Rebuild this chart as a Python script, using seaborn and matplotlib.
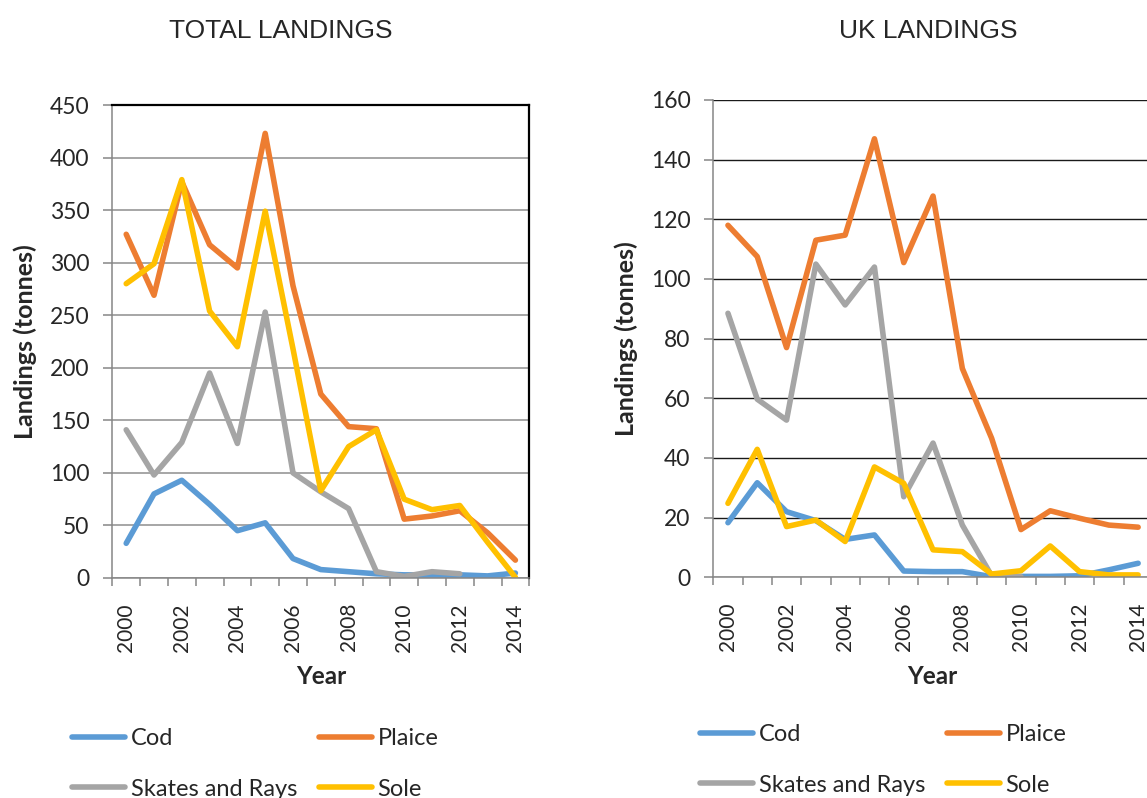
import numpy as np
import pandas as pd
import matplotlib
matplotlib.use("Agg")
import matplotlib.pyplot as plt
from matplotlib.lines import Line2D
from matplotlib.ticker import MultipleLocator
import seaborn as sns

# ---- data -------------------------------------------------------------
years = list(range(2000, 2015))
species = ["Cod", "Plaice", "Skates and Rays", "Sole"]
colors = ["#5B9BD5", "#ED7D31", "#A5A5A5", "#FFC000"]

total_cod = [33, 80, 93, 70, 45, 52.5, 18.5, 8, 6, 4, 3, 3, 3, 2, 4.7]
total_plaice = [327, 269, 377, 317, 295, 423, 278, 175, 144, 142, 56, 59, 64, 43, 17]
total_skates = [141, 98, 129, 195, 128, 253, 100, 82, 66, 6, 1.5, 6, 4, np.nan, np.nan]
total_sole = [280, 299, 379, 254, 220, 349, 218, 83, 125, 141, 75, 65, 69, 34, 0.6]

uk_cod = [18.3, 31.7, 22, 19, 12.7, 14.2, 2.1, 1.9, 1.9, 0.2, 0.3, 0.3, 0.5, 2.5, 4.7]
uk_plaice = [118, 107.5, 77, 113, 114.7, 147, 105.5, 127.8, 70, 46.6, 16, 22.3, 19.8, 17.5, 16.8]
uk_skates = [88.5, 59.7, 52.7, 105, 91.3, 104, 27, 45, 17.5, 0.5, 0.2,
             np.nan, np.nan, np.nan, np.nan]
uk_sole = [24.8, 42.9, 17, 19.2, 12, 37, 31.5, 9.2, 8.6, 1.1, 2.2, 10.5, 1.9, 0.8, 0.8]

year_labels = [str(y) for y in years[::2]]


def long_frame(series):
    rows = []
    for name, vals in zip(species, series):
        for y, v in zip(years, vals):
            rows.append({"Year": y, "Species": name, "Landings": v})
    return pd.DataFrame(rows).dropna()


total_df = long_frame([total_cod, total_plaice, total_skates, total_sole])
uk_df = long_frame([uk_cod, uk_plaice, uk_skates, uk_sole])

# ---- style ------------------------------------------------------------
sns.set_style("white")
plt.rcParams["font.family"] = ["Lato", "DejaVu Sans"]

W, H = 1147, 798
fig = plt.figure(figsize=(W / 100, H / 100), dpi=100)


def px_axes(x0, y0, x1, y1):
    return fig.add_axes([x0 / W, 1 - y1 / H, (x1 - x0) / W, (y1 - y0) / H])


ax_total = px_axes(112.3, 105, 529.3, 578)
ax_uk = px_axes(713.3, 100, 1152.8, 577.3)

LW = 4.0
palette = dict(zip(species, colors))


def draw(ax, df, ymax, ystep, grid_color, grid_lw):
    sns.lineplot(data=df, x="Year", y="Landings", hue="Species",
                 hue_order=species, palette=palette, linewidth=LW,
                 estimator=None, sort=True, legend=False, ax=ax,
                 solid_capstyle="round", solid_joinstyle="round")
    ax.set_xlim(years[0] - 0.5, years[-1] + 0.5)
    ax.set_ylim(0, ymax)
    ax.yaxis.set_major_locator(MultipleLocator(ystep))
    ax.grid(axis="y", color=grid_color, linewidth=grid_lw)
    ax.grid(axis="x", visible=False)
    ax.set_axisbelow(True)

    ax.set_xticks(years[::2])
    ax.set_xticklabels(year_labels, rotation=90)
    ax.set_xticks([y - 0.5 for y in years] + [years[-1] + 0.5], minor=True)
    ax.tick_params(axis="x", which="major", length=0, pad=18, labelsize=15)
    ax.tick_params(axis="x", which="minor", length=6, width=1.1,
                   color="#868686", direction="out", bottom=True)
    ax.tick_params(axis="y", which="major", length=6.5, width=1.1,
                   color="#868686", direction="out", left=True, pad=10,
                   labelsize=16.5)

    for side in ("left", "bottom"):
        ax.spines[side].set_color("#868686")
        ax.spines[side].set_linewidth(1.1)

    ax.set_xlabel("Year", fontsize=17.5, fontweight="bold")
    ax.set_ylabel("Landings (tonnes)", fontsize=18, fontweight="bold")


draw(ax_total, total_df, 450, 50, "#A6A6A6", 1.4)
draw(ax_uk, uk_df, 160, 20, "#1A1A1A", 1.0)

for side in ("top", "right"):
    ax_total.spines[side].set_color("#000000")
    ax_total.spines[side].set_linewidth(1.6)
ax_uk.spines["top"].set_visible(False)
ax_uk.spines["right"].set_visible(False)

# axis titles
ax_total.yaxis.set_label_coords((37 - 112.3) / 417, 0.5)
ax_total.xaxis.set_label_coords(0.501, (578 - 665) / 473)
ax_uk.yaxis.set_label_coords((638 - 713.3) / 439.5, 0.5)
ax_uk.xaxis.set_label_coords(0.498, (577.3 - 665) / 477.3)

# chart titles
fig.text(281 / W, 1 - 31 / H, "TOTAL LANDINGS", ha="center", va="center",
         fontsize=19, family=["Liberation Sans", "DejaVu Sans"])
fig.text(928 / W, 1 - 31 / H, "UK LANDINGS", ha="center", va="center",
         fontsize=19, family=["Liberation Sans", "DejaVu Sans"])

# legends: two columns, filled column by column -> rows Cod/Plaice, Skates/Sole
line_of = {s: Line2D([0], [0], color=c, linewidth=LW, solid_capstyle="round")
           for s, c in zip(species, colors)}
legend_order = ["Cod", "Skates and Rays", "Plaice", "Sole"]
for ax, x0, y0 in ((ax_total, 72, 728), (ax_uk, 700, 724)):
    ax.legend([line_of[s] for s in legend_order], legend_order, ncol=2,
              loc="upper left", bbox_to_anchor=(x0 / W, 1 - y0 / H),
              bbox_transform=fig.transFigure, frameon=False,
              fontsize=17, handlelength=2.25, handletextpad=0.25,
              columnspacing=0.9, labelspacing=1.25, borderpad=0,
              borderaxespad=0)

fig.savefig("out.png", dpi=100)
